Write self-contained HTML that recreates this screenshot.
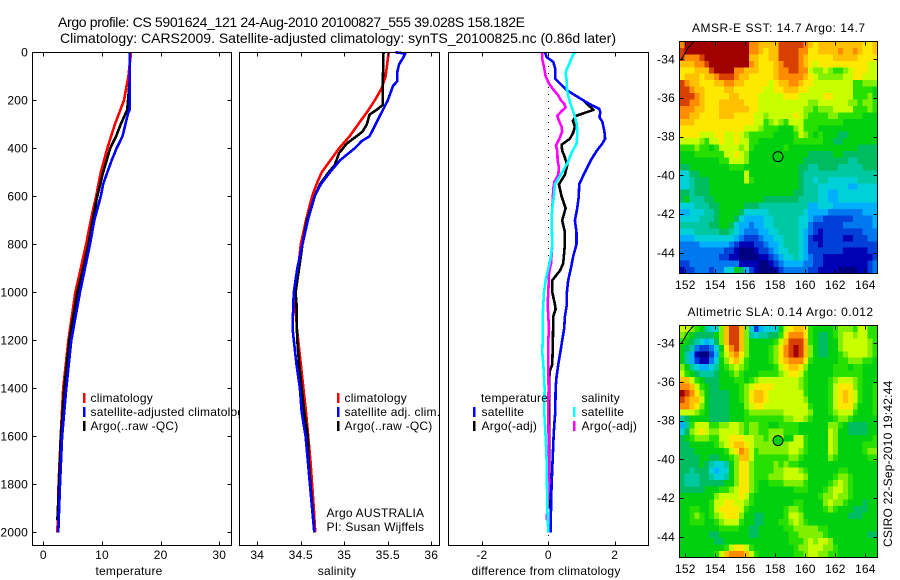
<!DOCTYPE html>
<html>
<head>
<meta charset="utf-8">
<title>Argo profile</title>
<style>
html,body{margin:0;padding:0;background:#fff;width:900px;height:580px;overflow:hidden}
svg{display:block}
text{font-family:"Liberation Sans",sans-serif;font-size:12px;fill:#000;letter-spacing:.22px}
.t{font-size:14px;letter-spacing:0}
</style>
</head>
<body>
<svg id="fig" xmlns="http://www.w3.org/2000/svg" width="900" height="580" viewBox="0 0 900 580">
<text class="t" x="58" y="27" textLength="467" lengthAdjust="spacing">Argo profile: CS 5901624_121 24-Aug-2010 20100827_555 39.028S 158.182E</text>
<text class="t" x="60" y="43" textLength="556" lengthAdjust="spacing">Climatology: CARS2009. Satellite-adjusted climatology: synTS_20100825.nc (0.86d later)</text>
<g id="layer"></g>
</svg>
<script>
/* ---------- temperature panel data ---------- */
const tempTicks = [0, 10, 20, 30];
const depthTicks = [0, 200, 400, 600, 800, 1000, 1200, 1400, 1600, 1800, 2000];
const tempClimDepth = [0, 100, 200, 300, 400, 500, 600, 700, 800, 900, 1000, 1200, 1400, 1600, 1800, 2000];
const tempClim = [14.95, 14.5, 13.75, 12.2, 10.9, 9.8, 9.0, 8.1, 7.3, 6.4, 5.45, 4.27, 3.4, 2.96, 2.6, 2.4];
const tempSatDepth = [0, 240, 250, 300, 350, 400, 450, 500, 550, 600, 700, 800, 900, 1000, 1200, 1400, 1600, 1800, 2000];
const tempSat = [14.72, 14.72, 14.5, 14, 13.5, 12.5, 11.65, 10.9, 10.2, 9.8, 8.7, 7.96, 7.1, 6.25, 4.78, 3.92, 3.2, 2.85, 2.56];
const tempArgoDepth = [0, 120, 240, 300, 350, 400, 450, 500, 600, 700, 800, 900, 1000, 1200, 1400, 1600, 1800, 1950];
const tempArgo = [14.72, 14.72, 14.3, 13.2, 12.4, 11.4, 10.8, 10.2, 9.2, 8.4, 7.7, 6.8, 5.8, 4.43, 3.58, 3.0, 2.68, 2.4];

/* ---------- salinity panel data ---------- */
const salTicks = [34, 34.5, 35, 35.5, 36];
const salClimDepth = [0, 100, 150, 200, 250, 300, 350, 400, 450, 500, 550, 600, 700, 800, 900, 1000, 1050, 1150, 1200, 1300, 1400, 1500, 1600, 1700, 1800, 1900, 2000];
const salClim = [35.51, 35.475, 35.43, 35.35, 35.26, 35.16, 35.06, 34.94, 34.84, 34.74, 34.68, 34.63, 34.56, 34.5, 34.47, 34.44, 34.44, 34.455, 34.47, 34.5, 34.53, 34.56, 34.585, 34.61, 34.63, 34.65, 34.665];
const salSatDepth = [0, 5, 20, 50, 80, 120, 140, 200, 250, 300, 350, 370, 400, 450, 500, 550, 600, 700, 800, 900, 1000, 1050, 1150, 1200, 1300, 1400, 1500, 1600, 1700, 1800, 1900, 2000];
const salSat = [35.59, 35.7, 35.68, 35.63, 35.61, 35.61, 35.56, 35.5, 35.43, 35.36, 35.29, 35.2, 35.12, 34.95, 34.835, 34.73, 34.66, 34.58, 34.52, 34.46, 34.42, 34.414, 34.406, 34.42, 34.45, 34.49, 34.51, 34.555, 34.58, 34.605, 34.63, 34.655];
const salArgoDepth = [0, 170, 220, 240, 260, 300, 330, 350, 380, 420, 470, 500, 550, 600, 700, 800, 900, 1000, 1050, 1150, 1200, 1300, 1400, 1500, 1600, 1700, 1800, 1900, 2000];
const salArgo = [35.45, 35.44, 35.44, 35.37, 35.29, 35.26, 35.21, 35.14, 35.03, 34.94, 34.89, 34.82, 34.72, 34.66, 34.57, 34.52, 34.48, 34.44, 34.45, 34.455, 34.46, 34.48, 34.51, 34.54, 34.58, 34.59, 34.61, 34.635, 34.655];

/* ---------- difference panel data ---------- */
const diffTicks = [-2, 0, 2];
const diffTempSatDepth = [0, 20, 40, 70, 110, 130, 160, 200, 220, 235, 250, 270, 290, 330, 360, 380, 410, 450, 500, 550, 600, 650, 700, 750, 800, 850, 900, 950, 1000, 1050, 1100, 1150, 1200, 1250, 1300, 1350, 1400, 1500, 1550, 1600, 1700, 1800, 1900, 2000];
const diffTempSat = [-0.1, -0.05, 0.15, 0.21, 0.21, 0.35, 0.58, 1.05, 1.3, 1.53, 1.57, 1.54, 1.63, 1.69, 1.71, 1.63, 1.46, 1.28, 1.1, 0.93, 0.92, 0.87, 0.8, 0.85, 0.85, 0.75, 0.68, 0.6, 0.56, 0.56, 0.5, 0.48, 0.42, 0.36, 0.3, 0.25, 0.22, 0.21, 0.18, 0.16, 0.13, 0.1, 0.08, 0.07];
const diffTempArgoDepth = [200, 240, 265, 285, 310, 335, 360, 385, 410, 430, 470, 510, 550, 600, 650, 700, 750, 800, 880, 910, 950, 1000, 1050, 1070, 1100, 1200, 1300, 1330, 1400, 1600, 1800, 1900];
const diffTempArgo = [1.05, 1.36, 0.83, 0.74, 0.8, 0.75, 0.65, 0.4, 0.42, 0.48, 0.57, 0.5, 0.32, 0.4, 0.52, 0.42, 0.5, 0.5, 0.45, 0.35, 0.12, 0.12, 0.2, 0.22, 0.15, 0.14, 0.12, 0.04, 0.02, 0.02, 0.03, 0.03];
const diffSalSatDepth = [0, 10, 30, 50, 70, 90, 120, 150, 180, 220, 260, 300, 350, 380, 420, 460, 500, 550, 600, 650, 700, 800, 850, 900, 950, 1000, 1050, 1100, 1200, 1250, 1300, 1350, 1400, 1500, 1600, 1700, 1800, 1900, 2000];
const diffSalSat = [0.8, 0.75, 0.68, 0.63, 0.55, 0.52, 0.56, 0.56, 0.6, 0.68, 0.78, 0.86, 0.87, 0.85, 0.7, 0.58, 0.42, 0.2, 0.17, 0.12, 0.1, 0.12, 0.08, 0, -0.08, -0.13, -0.15, -0.17, -0.17, -0.18, -0.15, -0.13, -0.11, -0.12, -0.08, -0.05, -0.04, -0.03, 0];
const diffSalArgoDepth = [0, 30, 60, 100, 130, 150, 180, 200, 215, 230, 245, 265, 285, 310, 330, 355, 390, 410, 450, 480, 510, 540, 570, 650, 700, 800, 880, 920, 1000, 1050, 1100, 1150, 1200, 1300, 1400, 1500, 1600, 1800, 1950];
const diffSalArgo = [-0.19, -0.18, -0.13, -0.08, 0.02, 0.12, 0.3, 0.38, 0.48, 0.52, 0.4, 0.27, 0.32, 0.4, 0.42, 0.35, 0.23, 0.27, 0.28, 0.32, 0.3, 0.18, 0.15, 0.12, 0.1, 0.12, 0.08, 0.02, 0, -0.02, 0, 0.02, 0, 0, 0.01, 0, 0.01, 0.02, -0.05];

/* ---------- map data: colour level per grid cell (north to south, west to east) ---------- */
const lonTicks = [152, 154, 156, 158, 160, 162, 164];
const latTicks = [-34, -36, -38, -40, -42, -44];
const sstLevels = [
[14,16,16,16,16,16,16,16,16,16,16,16,16,16,14,14,13,13,13,13,15,15,15,15,15,14,13,12,13,13,13,13,13,13,13,13,13,12,12,13],
[15,16,16,16,16,16,16,16,16,16,16,16,16,16,14,14,13,12,13,13,15,15,15,15,14,14,12,12,13,13,13,13,14,13,13,14,13,12,12,13],
[15,14,14,14,15,16,16,16,16,16,16,16,16,16,13,13,12,12,13,13,15,15,15,15,14,13,12,12,12,12,12,13,13,13,13,13,12,12,12,12],
[13,13,13,14,14,15,16,16,16,16,16,16,16,16,14,13,12,12,12,13,14,15,15,15,14,13,12,11,12,12,12,12,12,12,12,12,12,12,11,11],
[12,12,12,13,13,13,15,16,16,16,16,14,14,13,13,13,12,12,12,13,14,14,15,15,14,14,11,10,10,11,10,9,9,10,11,12,12,12,11,11],
[12,13,13,13,12,13,13,14,15,15,15,14,13,13,12,12,12,12,12,13,14,14,14,14,14,13,12,11,10,10,10,10,10,11,11,12,12,11,11,11],
[15,14,13,13,12,12,12,13,13,14,14,13,13,12,12,12,12,12,11,12,13,13,14,14,13,12,12,11,11,11,11,11,11,11,11,9,9,10,10,10],
[15,15,14,13,13,12,12,12,12,13,13,12,12,12,12,12,12,11,11,12,12,13,13,13,12,12,11,11,11,11,11,11,11,11,11,9,9,9,9,8],
[15,15,15,14,13,12,12,12,12,12,13,13,12,12,12,12,11,11,11,11,11,12,12,12,11,11,11,11,11,12,12,11,11,11,11,9,9,9,10,8],
[15,15,14,14,13,12,12,12,13,13,13,13,13,12,12,12,11,11,11,11,11,11,11,11,11,11,10,10,11,11,11,11,11,11,10,10,9,10,10,9],
[14,14,14,13,13,12,12,12,13,13,13,13,13,13,12,12,11,11,11,11,11,11,11,11,11,10,10,9,10,10,10,11,11,11,11,9,9,9,10,9],
[14,14,13,13,12,12,12,12,13,13,13,12,12,12,12,11,11,10,11,11,11,11,11,12,11,10,9,9,9,9,10,10,9,9,9,9,9,8,8,8],
[13,13,13,12,12,12,12,12,12,12,12,12,12,12,12,11,11,9,10,11,10,9,11,11,11,9,9,9,9,9,9,9,9,8,8,8,8,8,8,8],
[12,12,12,12,12,12,12,12,12,12,12,12,12,11,11,11,10,9,9,9,8,8,8,10,11,9,9,9,8,8,8,8,8,8,8,8,8,8,8,8],
[12,12,12,12,11,11,11,12,12,11,11,12,11,10,9,9,9,9,9,8,8,8,8,9,11,10,9,8,9,8,8,8,7,7,8,8,8,8,8,8],
[11,11,11,11,10,9,11,11,12,11,11,12,11,11,9,9,8,8,8,8,8,8,8,9,9,9,9,9,9,8,8,7,7,8,8,8,8,8,8,8],
[9,9,9,10,9,9,8,9,11,11,11,11,10,11,9,8,8,8,8,8,8,9,8,8,8,8,8,8,8,8,8,8,8,8,8,8,7,7,7,7],
[8,8,8,9,9,9,9,9,9,11,11,12,11,10,8,8,8,8,8,8,8,8,8,8,8,8,7,7,7,7,7,8,8,7,7,7,7,7,7,7],
[8,8,8,8,8,8,8,8,9,9,11,11,11,10,8,8,8,8,8,8,8,8,8,8,8,7,7,7,7,7,7,7,7,7,6,6,7,7,7,7],
[7,7,8,8,8,8,8,8,8,8,9,9,9,8,8,8,8,8,8,8,8,8,8,8,7,7,6,6,7,7,7,7,6,6,6,6,6,7,7,7],
[5,5,7,7,8,8,8,8,8,8,8,8,8,11,8,8,8,8,8,8,8,8,8,8,7,6,6,6,6,6,6,6,6,6,6,6,6,6,6,6],
[5,5,6,7,7,7,8,8,8,8,8,8,8,11,9,8,8,8,8,8,8,8,8,8,7,6,6,5,6,6,5,5,5,5,5,5,6,6,6,6],
[5,5,6,7,7,7,8,8,8,8,8,8,8,8,8,8,8,8,8,8,8,8,8,8,7,6,6,6,5,5,5,5,5,5,4,4,5,5,5,5],
[7,7,6,7,7,7,8,8,8,8,8,8,8,8,8,8,8,8,8,8,8,8,8,7,7,6,6,6,5,5,4,4,5,5,5,5,5,5,5,5],
[7,8,6,6,6,7,7,8,8,8,8,8,8,8,8,8,8,7,7,7,7,7,7,7,6,6,6,6,5,5,4,4,5,5,5,5,5,5,5,5],
[5,5,5,6,6,6,7,7,8,8,8,8,8,7,7,7,6,6,6,6,6,6,6,6,6,6,4,4,5,5,5,4,4,4,4,4,4,4,4,4],
[4,4,5,5,5,6,6,7,8,8,8,8,7,5,5,5,5,5,6,6,6,6,6,6,6,5,4,4,4,4,3,3,3,3,3,3,3,4,4,4],
[5,5,5,5,6,6,6,7,8,8,8,7,5,4,4,4,4,5,5,6,6,6,6,6,5,5,4,3,3,2,2,2,2,2,2,3,3,3,3,4],
[6,6,6,6,6,6,7,7,8,8,7,5,4,4,3,4,4,5,5,6,6,6,6,6,5,5,3,2,2,2,2,2,2,3,3,3,3,3,3,4],
[5,5,5,6,6,6,6,6,7,7,6,5,4,3,3,3,4,4,5,5,6,6,6,6,5,4,3,2,1,2,2,2,2,2,2,2,2,3,3,3],
[4,4,4,5,5,5,5,5,5,5,5,4,3,2,2,2,3,4,4,5,5,6,6,6,5,4,2,1,1,2,2,2,2,1,1,2,2,2,3,3],
[3,3,3,3,4,4,4,4,4,4,3,2,1,1,1,2,2,3,4,4,5,6,6,6,5,4,2,2,1,2,2,2,2,2,2,2,2,2,2,2],
[3,3,3,3,3,3,3,3,3,2,2,1,0,0,0,1,2,2,3,4,5,5,6,6,5,4,2,2,2,2,2,2,2,1,1,1,1,1,2,2],
[3,3,3,3,3,3,3,3,2,2,1,1,0,0,0,0,1,1,2,3,4,5,5,6,5,4,3,2,2,1,1,1,1,1,1,1,1,1,1,2],
[2,2,3,3,3,3,3,3,3,3,3,3,1,1,1,1,0,0,1,2,3,4,4,4,4,3,3,2,2,1,1,1,1,1,1,1,1,1,2,3],
[1,2,2,3,3,3,2,3,3,5,5,8,7,4,2,1,0,0,0,1,2,3,3,3,3,3,2,2,1,1,1,1,0,0,0,0,1,1,2,3]
];
const slaLevels = [
[11,11,10,9,8,6,5,5,10,13,15,15,13,10,5,2,4,5,5,5,8,11,12,13,13,12,9,8,8,8,8,9,10,10,10,9,11,11,9,9],
[10,9,8,7,7,7,7,8,10,13,15,15,13,10,6,5,6,6,7,7,9,12,14,14,14,12,9,8,7,7,8,9,10,11,11,10,11,11,9,9],
[9,8,7,6,5,4,5,7,10,13,15,15,13,10,8,8,8,8,8,9,11,13,15,15,15,13,9,8,7,7,8,8,10,11,11,11,11,11,10,9],
[8,7,6,3,2,2,3,5,8,12,14,15,13,10,8,8,8,8,9,10,12,14,15,16,15,13,10,8,7,7,8,8,10,11,11,11,11,11,10,9],
[8,6,4,1,0,0,2,4,9,11,13,14,12,10,8,8,8,8,9,10,12,14,15,16,15,13,10,8,7,7,8,8,9,10,11,11,11,11,10,9],
[8,6,4,2,1,1,3,5,8,10,12,13,11,9,8,8,8,8,9,10,12,13,14,14,14,12,9,8,8,8,8,8,9,9,10,10,10,9,9,8],
[10,8,6,5,4,4,5,6,8,9,10,11,10,9,8,8,8,8,8,9,11,12,13,13,12,10,8,8,8,8,8,9,9,9,8,9,9,8,8,8],
[11,9,8,7,6,6,6,7,8,8,9,10,9,8,8,8,9,9,9,9,10,11,12,12,11,9,8,8,8,8,8,9,9,9,9,9,9,8,8,8],
[13,13,11,9,8,7,7,7,8,8,8,9,9,8,9,10,11,11,11,11,11,11,11,11,10,9,8,8,8,8,9,10,11,11,11,10,9,8,8,8],
[14,14,13,11,9,8,7,7,8,8,8,8,9,10,11,12,12,12,12,11,11,11,11,11,10,9,8,8,8,8,9,11,12,12,12,10,9,8,8,9],
[16,15,14,12,10,8,7,7,7,7,8,8,9,10,12,13,13,12,11,11,11,11,11,11,11,9,8,8,8,8,9,11,12,13,12,11,9,8,8,9],
[15,14,13,13,11,8,7,7,7,7,8,8,9,10,12,13,13,12,11,11,11,11,11,11,11,10,8,8,8,8,9,11,12,13,12,11,9,8,8,9],
[14,14,13,12,10,8,7,7,7,7,8,8,8,10,11,12,12,11,11,11,11,11,11,11,11,11,9,8,8,8,9,11,12,12,12,10,8,8,8,9],
[11,11,11,10,9,8,7,7,7,7,8,8,8,9,10,10,10,10,10,10,10,11,11,11,11,11,10,8,8,8,9,10,11,11,11,9,8,8,8,9],
[6,7,8,8,8,8,7,7,7,7,8,8,8,9,9,9,9,9,9,9,9,10,10,11,11,10,9,8,8,8,8,9,10,10,9,8,8,8,8,8],
[4,6,9,11,11,11,9,9,10,10,11,11,10,9,10,10,9,9,8,8,9,9,9,9,8,8,8,8,8,8,10,10,9,8,7,7,7,7,8,8],
[5,7,10,11,12,11,10,10,11,11,11,11,10,9,10,10,9,9,10,10,10,9,9,9,8,8,8,8,8,8,11,10,8,8,7,7,7,7,8,8],
[7,8,9,10,10,10,9,9,11,11,12,12,12,11,11,10,10,9,10,10,11,8,8,11,11,9,8,8,8,8,11,10,8,8,8,8,8,8,8,9],
[7,7,8,8,8,8,8,9,10,11,12,13,13,12,11,10,10,10,10,10,10,10,11,11,11,9,8,8,8,8,11,10,8,8,8,8,8,9,9,9],
[7,7,7,8,8,8,8,8,8,9,11,12,14,13,11,9,10,10,10,10,10,10,11,11,10,9,8,8,8,8,11,10,8,8,8,8,8,9,10,10],
[7,7,7,7,8,8,7,7,8,8,9,10,13,13,11,9,9,9,9,9,9,9,10,10,9,8,8,8,8,8,10,9,8,8,8,8,8,8,9,9],
[7,7,7,7,8,7,6,5,5,6,8,10,12,12,10,9,9,9,9,10,9,10,9,9,8,8,8,8,8,8,8,8,8,8,8,8,8,8,8,8],
[7,7,6,7,7,7,5,4,5,5,8,10,12,12,10,9,9,9,9,10,10,11,11,11,10,9,8,8,8,8,8,8,9,9,8,8,8,8,8,8],
[7,6,6,6,7,7,6,5,5,6,8,10,12,12,10,9,9,9,10,10,10,11,11,11,11,10,8,8,8,8,8,9,10,10,9,8,8,8,8,8],
[7,6,6,6,7,7,7,7,7,8,8,10,12,12,10,9,8,8,9,9,9,10,10,10,10,9,8,8,8,8,9,10,11,10,9,8,8,8,8,8],
[7,7,7,7,7,8,8,8,9,9,10,11,12,12,10,9,8,8,8,8,8,8,8,9,9,9,8,8,8,9,10,11,11,10,9,8,8,8,8,8],
[8,8,8,8,8,8,8,10,11,11,11,11,12,11,9,8,8,8,8,8,8,8,8,8,8,8,8,8,9,10,10,11,10,10,9,8,8,8,8,8],
[8,8,8,8,8,8,9,11,11,12,12,11,11,10,9,8,8,8,8,8,8,8,8,9,9,8,8,8,8,10,11,10,10,9,8,8,8,7,8,8],
[8,8,9,9,8,8,9,11,12,12,12,12,11,9,8,8,8,8,8,8,8,9,10,10,9,8,8,8,8,9,10,9,8,8,8,7,7,7,8,8],
[8,8,9,10,9,8,9,10,11,12,12,12,10,8,8,7,7,8,8,8,8,9,11,11,10,8,8,8,8,8,8,8,8,8,7,7,7,8,8,8],
[8,8,9,9,9,8,8,9,10,11,11,11,9,8,8,7,7,8,8,8,9,9,10,11,10,9,8,8,8,8,8,8,8,8,8,8,8,8,8,8],
[8,8,8,8,8,8,8,8,9,9,9,9,8,8,7,7,8,8,8,8,8,9,9,10,10,10,10,10,9,9,8,8,8,8,8,8,8,8,8,8],
[8,8,8,8,8,8,7,7,8,8,8,8,8,8,7,7,8,8,8,8,8,8,9,9,10,10,10,10,10,9,8,8,8,8,8,8,8,8,7,7],
[8,8,8,8,8,8,8,7,7,8,8,8,8,8,8,8,8,8,8,8,8,8,9,9,9,10,11,10,11,11,10,8,8,8,8,8,8,8,8,8],
[8,8,8,8,8,8,8,8,8,9,11,12,12,11,9,8,8,8,8,8,8,8,8,9,10,10,11,11,11,10,10,9,8,8,8,8,8,8,8,8],
[8,8,8,8,8,8,8,9,11,13,14,14,14,13,11,9,8,8,8,8,8,8,8,9,9,10,11,11,10,10,9,9,8,8,8,8,8,8,8,8]
];
const levelColors = ['#000080','#0000b4','#0040d8','#0078f0','#00b0ff','#00d0d8','#00c8a0','#00bc60','#00d010','#28e000','#80f000','#c8ff00','#ffe800','#ffc000','#ff8c00','#d84000','#a00000'];

/* ---------- scales ---------- */
const depthY = d => 52.3 + 0.24 * d;
const tempX = v => 43.3 + 5.867 * v;
const salX = v => 257.3 + 87 * (v - 34);
const diffX = v => 548.3 + 33.2 * v;
const lonX = v => 685.3 + 15 * (v - 152);
const latYTop = v => 59.3 + 19.35 * (-34 - v);
const latYBottom = v => 343.3 + 19.35 * (-34 - v);

const NS = 'http://www.w3.org/2000/svg';
const layer = document.getElementById('layer');
function mk(tag, props, parent) {
  const el = document.createElementNS(NS, tag);
  for (const k in props) el.setAttribute(k, props[k]);
  (parent || layer).appendChild(el);
  return el;
}
function label(str, x, y, anchor, parent) {
  const t = mk('text', {x: x, y: y, 'text-anchor': anchor || 'start'}, parent);
  t.textContent = str;
  return t;
}
function panelBox(x0, x1, y0, y1, name) {
  const g = mk('g', {});
  
  
  const r = mk('rect', {x: x0 + 0.5, y: y0 + 0.5, width: x1 - x0, height: y1 - y0, fill: '#fff', stroke: 'none'}, g);
  
  
  return g;
}
function frame(g, x0, x1, y0, y1, name) {
  const r = mk('rect', {x: x0 + 0.5, y: y0 + 0.5, width: x1 - x0, height: y1 - y0, fill: 'none', stroke: '#000', 'stroke-width': 1, 'shape-rendering': 'crispEdges'}, g);
  
  
}
function tickLine(g, x1, y1, x2, y2, name) {
  const l = mk('line', {x1: Math.round(x1) + 0.5, y1: Math.round(y1) + 0.5, x2: Math.round(x2) + 0.5, y2: Math.round(y2) + 0.5, stroke: '#000', 'stroke-width': 1, 'shape-rendering': 'crispEdges'}, g);
  
  
}
function xTicks(g, ticks, sx, y0, y1, labelY, name) {
  ticks.forEach(v => {
    const x = sx(v);
    tickLine(g, x, y0, x, y0 + 4, name + '-tick-top');
    tickLine(g, x, y1, x, y1 - 4, name + '-tick-bottom');
    const t = label(String(v), x, labelY, 'middle', g);
    
    
  });
}
function series(g, xs, depths, sx, color, width, name) {
  const pts = xs.map((v, i) => sx(v).toFixed(1) + ',' + depthY(depths[i]).toFixed(1)).join(' ');
  const p = mk('polyline', {points: pts, fill: 'none', stroke: color, 'stroke-width': width, 'shape-rendering': 'crispEdges', 'stroke-linejoin': 'round'}, g);
  
  
}
function legendEntry(g, barX, textX, y, color, str, name) {
  const b = mk('rect', {x: barX, y: y - 9, width: 2.5, height: 10, fill: color, 'shape-rendering': 'crispEdges'}, g);
  
  
  const t = label(str, textX, y, 'start', g);
  
  
}
function axisTitle(g, str, x, y, name) {
  const t = label(str, x, y, 'middle', g);
  
  
}
const lineW = 2.6;

/* ---------- temperature panel ---------- */
const g1 = panelBox(32, 231, 52, 545, 'temperature-panel');
series(g1, tempClim, tempClimDepth, tempX, '#ff0000', lineW, 'temperature-climatology-line');
series(g1, tempArgo, tempArgoDepth, tempX, '#000000', lineW, 'temperature-argo-line');
series(g1, tempSat, tempSatDepth, tempX, '#0000ff', lineW, 'temperature-satellite-line');
frame(g1, 32, 231, 52, 545, 'temperature-panel');
xTicks(g1, tempTicks, tempX, 52, 545, 559, 'temperature-axis');
depthTicks.forEach(d => {
  const y = depthY(d);
  tickLine(g1, 32, y, 36, y, 'depth-tick-left');
  tickLine(g1, 231, y, 227, y, 'depth-tick-right');
  const t = label(String(d), 28, y + 4, 'end', g1);
  
  
});
axisTitle(g1, 'temperature', 129, 575, 'temperature-axis-title');
legendEntry(g1, 83, 90.5, 402, '#ff0000', 'climatology', 'temperature-legend-climatology');
legendEntry(g1, 83, 90.5, 416, '#0000ff', 'satellite-adjusted climatology', 'temperature-legend-satellite');
legendEntry(g1, 83, 90.5, 430, '#000000', 'Argo(..raw -QC)', 'temperature-legend-argo');

/* ---------- salinity panel ---------- */
const g2 = panelBox(239, 439, 52, 545, 'salinity-panel');
series(g2, salClim, salClimDepth, salX, '#ff0000', lineW, 'salinity-climatology-line');
series(g2, salArgo, salArgoDepth, salX, '#000000', lineW, 'salinity-argo-line');
series(g2, salSat, salSatDepth, salX, '#0000ff', lineW, 'salinity-satellite-line');
frame(g2, 239, 439, 52, 545, 'salinity-panel');
xTicks(g2, salTicks, salX, 52, 545, 559, 'salinity-axis');
axisTitle(g2, 'salinity', 337, 575, 'salinity-axis-title');
legendEntry(g2, 337, 344.5, 402, '#ff0000', 'climatology', 'salinity-legend-climatology');
legendEntry(g2, 337, 344.5, 416, '#0000ff', 'satellite adj. clim.', 'salinity-legend-satellite');
legendEntry(g2, 337, 344.5, 430, '#000000', 'Argo(..raw -QC)', 'salinity-legend-argo');
const argoNote = label('Argo AUSTRALIA', 326.5, 517, 'start', g2);


const piNote = label('PI: Susan Wijffels', 326.5, 531, 'start', g2);



/* ---------- difference panel ---------- */
const g3 = panelBox(448, 648, 52, 545, 'difference-panel');
const zero = mk('line', {x1: diffX(0), x2: diffX(0), y1: 52, y2: 545, stroke: '#000', 'stroke-width': 1, 'stroke-dasharray': '1 6', 'shape-rendering': 'crispEdges'}, g3);


series(g3, diffTempArgo, diffTempArgoDepth, diffX, '#000000', lineW, 'difference-temperature-argo-line');
series(g3, diffTempSat, diffTempSatDepth, diffX, '#0000ff', lineW, 'difference-temperature-satellite-line');
series(g3, diffSalArgo, diffSalArgoDepth, diffX, '#ff00ff', lineW, 'difference-salinity-argo-line');
series(g3, diffSalSat, diffSalSatDepth, diffX, '#00ffff', lineW, 'difference-salinity-satellite-line');
frame(g3, 448, 648, 52, 545, 'difference-panel');
xTicks(g3, diffTicks, diffX, 52, 545, 559, 'difference-axis');
axisTitle(g3, 'difference from climatology', 546, 575, 'difference-axis-title');
const hTemp = label('temperature', 481, 402, 'start', g3);


const hSal = label('salinity', 581.5, 402, 'start', g3);


legendEntry(g3, 473, 481.5, 416, '#0000ff', 'satellite', 'difference-legend-temperature-satellite');
legendEntry(g3, 473, 481.5, 430, '#000000', 'Argo(-adj)', 'difference-legend-temperature-argo');
legendEntry(g3, 573, 581.5, 416, '#00ffff', 'satellite', 'difference-legend-salinity-satellite');
legendEntry(g3, 573, 581.5, 430, '#ff00ff', 'Argo(-adj)', 'difference-legend-salinity-argo');

/* ---------- maps ---------- */
function drawMap(levels, y0, y1, sy, name, titleStr, titleX, titleY, labelY) {
  const g = panelBox(679, 877, y0, y1, name);
  const cw = 198 / levels[0].length;
  const ch = (y1 - y0) / levels.length;
  levels.forEach((row, r) => {
    row.forEach((lv, c) => {
      const cell = mk('rect', {x: (679.5 + c * cw).toFixed(2), y: (y0 + 0.5 + r * ch).toFixed(2), width: (cw + 0.5).toFixed(2), height: (ch + 0.5).toFixed(2), fill: levelColors[lv], 'shape-rendering': 'crispEdges'}, g);
      
      
    });
  });
  const coast = mk('polyline', {points: [lonX(151.7), sy(-34.05), lonX(152.2), sy(-33.4), lonX(152.55), sy(-33.1)].join(' '), fill: 'none', stroke: '#000', 'stroke-width': 1, 'shape-rendering': 'crispEdges'}, g);
  
  
  frame(g, 679, 877, y0, y1, name);
  lonTicks.forEach(v => {
    const x = lonX(v);
    tickLine(g, x, y0, x, y0 + 4, name + '-longitude-tick-top');
    tickLine(g, x, y1, x, y1 - 4, name + '-longitude-tick-bottom');
    const t = label(String(v), x, labelY, 'middle', g);
    
    
  });
  latTicks.forEach(v => {
    const y = sy(v);
    tickLine(g, 679, y, 683, y, name + '-latitude-tick-left');
    tickLine(g, 877, y, 873, y, name + '-latitude-tick-right');
    const t = label(String(v), 675, y + 4, 'end', g);
    
    
  });
  const tt = label(titleStr, titleX, titleY, 'start', g);
  tt.setAttribute('style', 'letter-spacing:.5px');
  
  
  return g;
}
const profileLon = 158.182;
const profileLat = -39.028;
const mapA = drawMap(sstLevels, 41, 273, latYTop, 'sst-map', 'AMSR-E SST: 14.7 Argo: 14.7', 692, 32, 289);
const mapB = drawMap(slaLevels, 325, 557, latYBottom, 'sla-map', 'Altimetric SLA: 0.14 Argo: 0.012', 687.5, 316, 573);
const markA = mk('circle', {cx: lonX(profileLon), cy: latYTop(profileLat), r: 5, fill: 'none', stroke: '#000', 'stroke-width': 1}, mapA);


const markB = mk('circle', {cx: lonX(profileLon), cy: latYBottom(profileLat), r: 5, fill: '#00d010', stroke: '#000', 'stroke-width': 1}, mapB);



const stamp = mk('text', {x: 0, y: 0, transform: 'translate(892,547) rotate(-90)'});
stamp.textContent = 'CSIRO 22-Sep-2010 19:42:44';


</script>
</body>
</html>
